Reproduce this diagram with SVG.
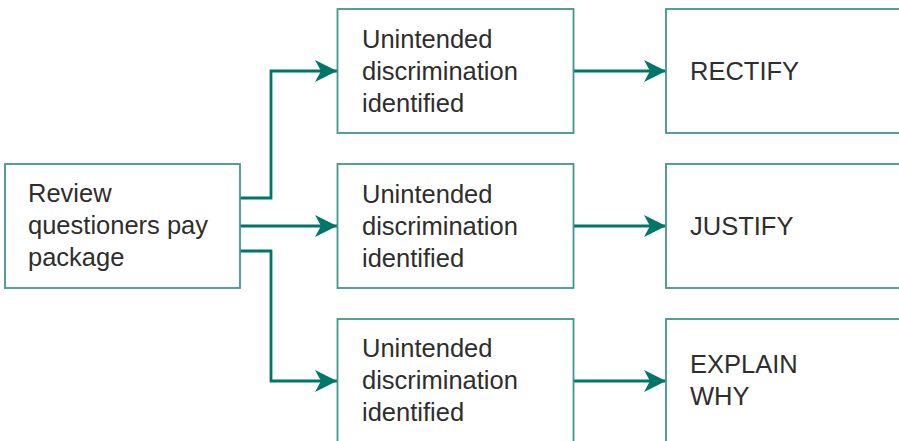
<svg xmlns="http://www.w3.org/2000/svg" width="899" height="441" viewBox="0 0 899 441">
<defs>
<style>
.box{fill:#fff;stroke:#3f978c;stroke-width:1.8}
.t{font-family:"Liberation Sans",Arial,sans-serif;font-size:25.5px;fill:#2e2e2e}
.c{fill:none;stroke:#00756a;stroke-width:2.8;stroke-linejoin:miter}
</style>
<marker id="ah" viewBox="0 0 22 22" refX="22" refY="11" markerWidth="22" markerHeight="22" markerUnits="userSpaceOnUse" orient="auto">
<path d="M0,0 L22,11 L0,22 L6,11 Z" fill="#00756a"/>
</marker>
</defs>
<rect width="899" height="441" fill="#fff"/>
<g id="connectors">
<path class="c" d="M240,198 H271 V71 H337" marker-end="url(#ah)"/>
<path class="c" d="M240,226 H337" marker-end="url(#ah)"/>
<path class="c" d="M240,251 H271 V381 H337" marker-end="url(#ah)"/>
<path class="c" d="M573,71 H666" marker-end="url(#ah)"/>
<path class="c" d="M573,226 H666" marker-end="url(#ah)"/>
<path class="c" d="M573,381 H666" marker-end="url(#ah)"/>
</g>
<g id="review">
<rect class="box" x="5" y="164" width="235" height="124"/>
<text class="t" x="28"><tspan x="28" y="202">Review</tspan><tspan x="28" y="234">questioners pay</tspan><tspan x="28" y="266">package</tspan></text>
</g>
<g id="disc1">
<rect class="box" x="337.5" y="9" width="236" height="124"/>
<text class="t"><tspan x="362" y="48">Unintended</tspan><tspan x="362" y="80">discrimination</tspan><tspan x="362" y="112">identified</tspan></text>
</g>
<g id="disc2">
<rect class="box" x="337.5" y="164" width="236" height="124"/>
<text class="t"><tspan x="362" y="203">Unintended</tspan><tspan x="362" y="235">discrimination</tspan><tspan x="362" y="267">identified</tspan></text>
</g>
<g id="disc3">
<rect class="box" x="337.5" y="319" width="236" height="140"/>
<text class="t"><tspan x="362" y="357">Unintended</tspan><tspan x="362" y="389">discrimination</tspan><tspan x="362" y="421">identified</tspan></text>
</g>
<g id="rectify">
<rect class="box" x="666" y="9" width="250" height="124"/>
<text class="t" x="690" y="80">RECTIFY</text>
</g>
<g id="justify">
<rect class="box" x="666" y="164" width="250" height="124"/>
<text class="t" x="690" y="235">JUSTIFY</text>
</g>
<g id="explain">
<rect class="box" x="666" y="319" width="250" height="140"/>
<text class="t"><tspan x="690" y="373">EXPLAIN</tspan><tspan x="690" y="405">WHY</tspan></text>
</g>
</svg>
